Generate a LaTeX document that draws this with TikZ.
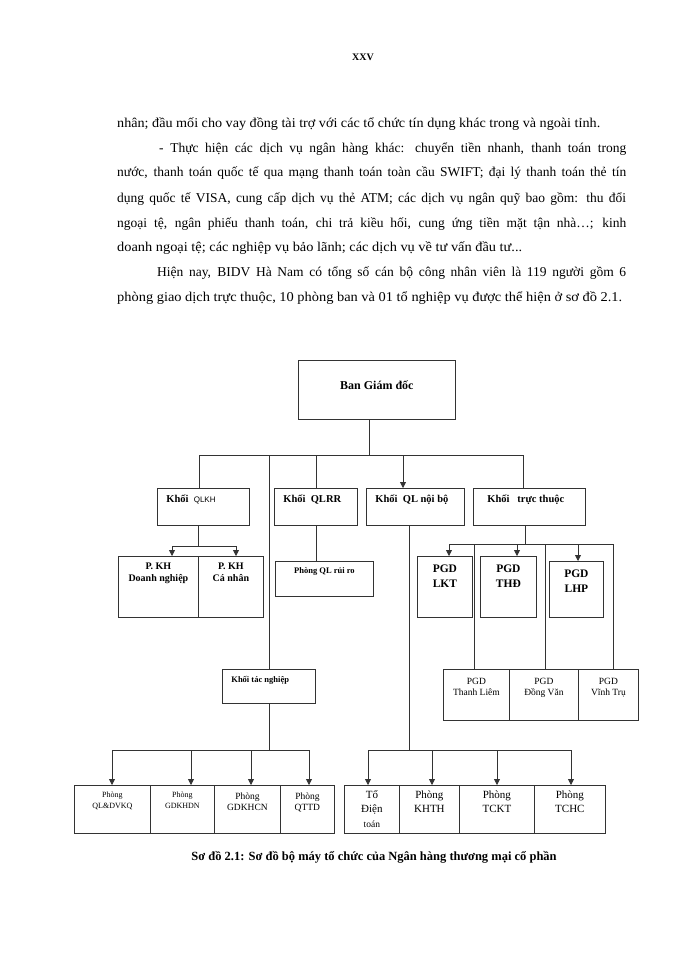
\documentclass[tikz,border=0pt]{standalone}
\usepackage{fontspec}
\setmainfont{Liberation Serif}
\setsansfont{Liberation Sans}
\usepackage{graphicx}
\usetikzlibrary{arrows.meta,positioning}
\def\fsz#1#2{\fontsize{#1}{#2}\selectfont}
\def\cell(#1,#2,#3)#4{\parbox[c][#2pt][t]{#1pt}{\vspace*{#3pt}#4}}

\tikzset{
	body/.style={anchor=base west, inner sep=0pt, font=\fsz{13.5}{16}},
	box/.style={draw=black!80, line width=0.8pt, inner sep=0pt, anchor=north west},
	link/.style={draw=black!80, line width=0.8pt},
	arr/.style={link, -{Triangle[length=6pt,width=6pt]}},
}

\begin{document}
\begin{tikzpicture}[x=1pt,y=-1pt]
			%%%%% PAGE %%%%%
			\fill[white] (0,0) rectangle (700,960);
			\useasboundingbox (0,0) rectangle (700,960);
			
			\node[font=\bfseries\fsz{10}{12}] (pg) at (363,57) {XXV};
			
			\node[body] (l1) at (117,128) {\resizebox{483pt}{\height}{nhân; đầu mối cho vay đồng tài trợ với các tổ chức tín dụng khác trong và ngoài tỉnh.}};
			\node[body] (l2) at (159,153) {\makebox[467pt][s]{- Thực hiện các dịch vụ ngân hàng khác: chuyển tiền nhanh, thanh toán trong}};
			\node[body] (l3) at (117,177) {\makebox[509pt][s]{nước, thanh toán quốc tế qua mạng thanh toán toàn cầu SWIFT; đại lý thanh toán thẻ tín}};
			\node[body] (l4) at (117,202) {\makebox[509pt][s]{dụng quốc tế VISA, cung cấp dịch vụ thẻ ATM; các dịch vụ ngân quỹ bao gồm: thu đổi}};
			\node[body] (l5) at (117,227) {\makebox[509pt][s]{ngoại tệ, ngân phiếu thanh toán, chi trả kiều hối, cung ứng tiền mặt tận nhà…; kinh}};
			\node[body] (l6) at (117,251) {\resizebox{405pt}{\height}{doanh ngoại tệ; các nghiệp vụ bảo lãnh; các dịch vụ về tư vấn đầu tư...}};
			\node[body] (l7) at (157,276) {\makebox[469pt][s]{Hiện nay, BIDV Hà Nam có tổng số cán bộ công nhân viên là 119 người gồm 6}};
			\node[body] (l8) at (117,301) {\resizebox{505pt}{\height}{phòng giao dịch trực thuộc, 10 phòng ban và 01 tổ nghiệp vụ được thể hiện ở sơ đồ 2.1.}};
			
			%%%%% BOXES %%%%%
			\node[box] (bgd) at (298,360) {\cell(157,59,20){\centering\bfseries\fsz{12}{14}Ban Giám đốc}};
			
			\node[box] (qlkh) at (157,488) {\cell(92,37,6){\hspace*{9pt}\bfseries\fsz{10.5}{12}Khối\ \ \sffamily\mdseries\fsz{8}{12}QLKH}};
			\node[box] (qlrr) at (274,488) {\cell(83,37,6){\hspace*{9pt}\bfseries\fsz{10.5}{12}Khối\ \ QLRR}};
			\node[box] (qlnb) at (366,488) {\cell(98,37,6){\hspace*{9pt}\bfseries\fsz{10.5}{12}Khối\ \ QL nội bộ}};
			\node[box] (trthuoc) at (473,488) {\cell(112,37,6){\hspace*{14pt}\bfseries\fsz{10.5}{12}Khối\ \ \ trực thuộc}};
			
			\node[box] (pkhdn) at (118,556) {\cell(80,61,7){\centering\bfseries\fsz{10}{11.5}P. KH\\Doanh nghiệp}};
			\node[box] (pkhcn) at (198,556) {\cell(65,61,7){\centering\bfseries\fsz{10}{11.5}P. KH\\Cá nhân}};
			\node[box] (pqlrr) at (275,561) {\cell(98,35,6){\centering\bfseries\fsz{8.5}{10}Phòng QL rủi ro}};
			
			\node[box] (lkt) at (417,556) {\cell(55,61,8){\centering\bfseries\fsz{11.5}{15}PGD\\LKT}};
			\node[box] (thd) at (480,556) {\cell(56,61,8){\centering\bfseries\fsz{11.5}{15}PGD\\THĐ}};
			\node[box] (lhp) at (549,561) {\cell(54,56,8){\centering\bfseries\fsz{11.5}{15}PGD\\LHP}};
			
			\node[box] (tacng) at (222,669) {\cell(93,34,7){\hspace*{9pt}\bfseries\fsz{8.5}{10}Khối tác nghiệp}};
			
			\node[box] (tl) at (443,669) {\cell(66,51,9){\centering\fsz{9.5}{11}PGD\\Thanh Liêm}};
			\node[box] (dv) at (509,669) {\cell(69,51,9){\centering\fsz{9.5}{11}PGD\\Đồng Văn}};
			\node[box] (vt) at (578,669) {\cell(60,51,9){\centering\fsz{9.5}{11}PGD\\Vĩnh Trụ}};
			
			\node[box] (qldv) at (74,785) {\cell(76,48,7){\centering\fsz{8}{11}Phòng\\QL\&DVKQ}};
			\node[box] (gdkhdn) at (150,785) {\cell(64,48,7){\centering\fsz{8}{11}Phòng\\GDKHDN}};
			\node[box] (gdkhcn) at (214,785) {\cell(66,48,7){\centering\fsz{9.5}{11.5}Phòng\\GDKHCN}};
			\node[box] (qttd) at (280,785) {\cell(54,48,7){\centering\fsz{9.5}{11.5}Phòng\\QTTD}};
			
			\node[box] (tdt) at (344,785) {\cell(55,48,5){\centering\fsz{11}{14.5}Tổ\\Điện\\{\fsz{9.5}{14.5}toán}}};
			\node[box] (khth) at (399,785) {\cell(60,48,5){\centering\fsz{11}{14.5}Phòng\\KHTH}};
			\node[box] (tckt) at (459,785) {\cell(75,48,5){\centering\fsz{11}{14.5}Phòng\\TCKT}};
			\node[box] (tchc) at (534,785) {\cell(71,48,5){\centering\fsz{11}{14.5}Phòng\\TCHC}};
			
			\node[font=\bfseries\fsz{12.5}{14}] (cap) at (374,857) {Sơ đồ 2.1: Sơ đồ bộ máy tổ chức của Ngân hàng thương mại cổ phần};
			
			%%%%% LINKS %%%%%
			\coordinate (hub) at (369,455);
			\coordinate (busl) at (199,455);
			\coordinate (busr) at (523,455);
			\draw[link] (hub |- bgd.south) -- (hub);
			\draw[link] (busl) -- (busr);
			\draw[link] (busl) -- (busl |- qlkh.north);
			\draw[link] (qlrr.north |- hub) -- (qlrr.north);
			\coordinate (jnb) at (403,455);
			\draw[arr] (jnb) -- (jnb |- qlnb.north);
			\draw[link] (busr) -- (busr |- trthuoc.north);
			\draw[link] (tacng.north |- hub) -- (tacng.north);
			
			\coordinate (kh) at (198,546);
			\coordinate (khl) at (172,546);
			\coordinate (khr) at (236,546);
			\draw[link] (kh |- qlkh.south) -- (kh);
			\draw[link] (khl) -- (khr);
			\draw[arr] (khl) -- (khl |- pkhdn.north);
			\draw[arr] (khr) -- (khr |- pkhcn.north);
			
			\draw[link] (qlrr.south) -- (qlrr.south |- pqlrr.north);
			
			\coordinate (tt) at (525,544);
			\coordinate (ttl) at (449,544);
			\coordinate (ttr) at (613,544);
			\draw[link] (tt |- trthuoc.south) -- (tt);
			\draw[link] (ttl) -- (ttr) -- (ttr |- vt.north);
			\foreach \x/\n in {449/lkt,517/thd,578/lhp}{
				\coordinate (t) at (\x,544);
				\draw[arr] (t) -- (t |- \n.north);
			}
			\foreach \x/\n in {474/tl,545/dv}{
				\coordinate (t) at (\x,544);
				\draw[link] (t) -- (t |- \n.north);
			}
			
			\coordinate (lbusl) at (112,750);
			\coordinate (lbusr) at (309,750);
			\draw[link] (tacng.south) -- (tacng.south |- lbusl);
			\draw[link] (lbusl) -- (lbusr);
			\foreach \x/\n in {112/qldv,191/gdkhdn,251/gdkhcn,309/qttd}{
				\coordinate (t) at (\x,750);
				\draw[arr] (t) -- (t |- \n.north);
			}
			
			\coordinate (nb) at (409,750);
			\coordinate (rbusl) at (368,750);
			\coordinate (rbusr) at (571,750);
			\draw[link] (nb |- qlnb.south) -- (nb);
			\draw[link] (rbusl) -- (rbusr);
			\foreach \x/\n in {368/tdt,432/khth,497/tckt,571/tchc}{
				\coordinate (t) at (\x,750);
				\draw[arr] (t) -- (t |- \n.north);
			}
			%%%%% END %%%%%
\end{tikzpicture}
\end{document}
